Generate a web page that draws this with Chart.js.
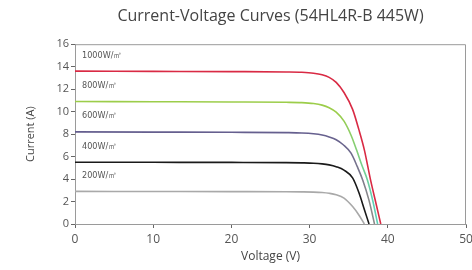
<!DOCTYPE html>
<html>
<head>
<meta charset="utf-8">
<script src="https://cdn.jsdelivr.net/npm/chart.js@4"></script>
<style>
  body { margin: 0; background: #fff; }
  #wrap { width: 472px; height: 270px; }
</style>
</head>
<body>
<div id="wrap"><canvas id="ivChart"></canvas></div>
<script>
// voltage (V) / current (A) pairs
const v1000 = [0, 10, 20, 27, 29, 30.5, 31.6, 32.5, 33.4, 34.4, 35.5, 36.3, 37, 37.8, 38.5, 39.1];
const i1000 = [13.6, 13.58, 13.56, 13.53, 13.5, 13.42, 13.28, 13.05, 12.6, 11.7, 10.2, 8.4, 6.6, 3.9, 1.8, 0];
const v800 = [0, 10, 20, 27, 29, 30.5, 31.6, 32.5, 33.4, 34.4, 35.3, 36, 36.7, 37.4, 38.1, 38.7];
const i800 = [10.9, 10.88, 10.86, 10.83, 10.8, 10.72, 10.58, 10.35, 9.95, 9.15, 7.9, 6.6, 5.2, 3.9, 2.0, 0];
const v600 = [0, 10, 20, 27, 29, 30.5, 31.6, 32.5, 33.4, 34.3, 35.3, 36.1, 36.8, 37.6, 38.3];
const i600 = [8.2, 8.18, 8.16, 8.13, 8.1, 8.03, 7.92, 7.75, 7.5, 7.05, 6.3, 5.1, 3.9, 2.1, 0];
const v400 = [0, 10, 20, 27, 29, 30.5, 31.6, 32.5, 33.4, 34.4, 35.5, 36.3, 37, 37.6];
const i400 = [5.5, 5.49, 5.48, 5.46, 5.44, 5.41, 5.35, 5.26, 5.1, 4.8, 4.1, 2.8, 1.3, 0];
const v200 = [0, 10, 20, 27, 29, 30.5, 31.6, 32.5, 33.4, 34.4, 35.5, 36.3, 37];
const i200 = [2.9, 2.89, 2.88, 2.87, 2.86, 2.84, 2.8, 2.73, 2.6, 2.3, 1.55, 0.8, 0];

const irradiance = ["1000W/㎡", "800W/㎡", "600W/㎡", "400W/㎡", "200W/㎡"];
const xTicks = [0, 10, 20, 30, 40, 50];
const yTicks = [0, 2, 4, 6, 8, 10, 12, 14, 16];

const pts = (vs, is) => vs.map((v, k) => ({ x: v, y: is[k] }));

function vGrad(top, bottom) {
  return (c) => {
    const area = c.chart.chartArea;
    if (!area) return top;
    const ys = c.chart.scales.y;
    const g = c.chart.ctx.createLinearGradient(0, ys.getPixelForValue(10), 0, ys.getPixelForValue(2));
    g.addColorStop(0, top);
    g.addColorStop(1, bottom);
    return g;
  };
}

const series = [
  { data: pts(v1000, i1000), color: "#d92a44" },
  { data: pts(v800, i800), color: vGrad("#9ccd4a", "#5fcfb6") },
  { data: pts(v600, i600), color: vGrad("#5a5290", "#8a8a8a") },
  { data: pts(v400, i400), color: "#1a1a1a" },
  { data: pts(v200, i200), color: "#a9a9a9" }
];

// frame + irradiance labels drawn against the scales
const extras = {
  id: "extras",
  afterDatasetsDraw(chart) {
    const { ctx, chartArea: a, scales } = chart;
    ctx.save();
    ctx.strokeStyle = "#9a9a9a";
    ctx.lineWidth = 1;
    ctx.beginPath();
    ctx.moveTo(a.left, a.top + 0.5);
    ctx.lineTo(a.right - 0.5, a.top + 0.5);
    ctx.lineTo(a.right - 0.5, a.bottom);
    ctx.stroke();
    ctx.fillStyle = "#555";
    ctx.font = "9px 'Liberation Sans Narrow', 'DejaVu Sans Condensed', sans-serif";
    ctx.textBaseline = "middle";
    series.forEach((s, k) => {
      const y = scales.y.getPixelForValue(s.data[0].y + 1.4);
      ctx.fillText(irradiance[k], scales.x.getPixelForValue(0.9), y);
    });
    ctx.restore();
  }
};

const font = (size) => ({ family: "'Open Sans', sans-serif", size: size });

new Chart(document.getElementById("ivChart"), {
  type: "line",
  data: {
    datasets: series.map((s, k) => ({
      label: irradiance[k],
      data: s.data,
      borderColor: s.color,
      borderWidth: 1.6,
      pointRadius: 0,
      fill: false,
      cubicInterpolationMode: "monotone"
    }))
  },
  options: {
    responsive: true,
    maintainAspectRatio: false,
    animation: false,
    layout: { padding: { left: 20, right: 0, bottom: 2 } },
    plugins: {
      legend: { display: false },
      tooltip: { enabled: false },
      title: {
        display: true,
        fullSize: false,
        text: "Current-Voltage Curves (54HL4R-B 445W)",
        color: "#444",
        font: { family: "'Open Sans', sans-serif", size: 16, weight: "normal" },
        padding: { top: 7, bottom: 18 }
      }
    },
    scales: {
      x: {
        type: "linear",
        min: 0, max: 50,
        afterBuildTicks: (s) => { s.ticks = xTicks.map(v => ({ value: v })); },
        afterFit: (s) => { s.height = 44; s.paddingRight = 6; },
        border: { color: "#9a9a9a" },
        grid: { drawOnChartArea: false, tickLength: 4, color: "#666" },
        ticks: { color: "#555", font: font(12), padding: 4 },
        title: { display: true, text: "Voltage (V)", color: "#444", font: font(12), padding: { top: 3 } }
      },
      y: {
        min: 0, max: 16,
        afterBuildTicks: (s) => { s.ticks = yTicks.map(v => ({ value: v })); },
        afterFit: (s) => { s.width = 55; },
        border: { color: "#9a9a9a" },
        grid: { drawOnChartArea: false, tickLength: 4, color: "#666" },
        ticks: { color: "#555", font: font(11), padding: 2 },
        title: { display: true, text: "Current (A)", color: "#444", font: font(11), padding: { bottom: 6 } }
      }
    }
  },
  plugins: [extras]
});
</script>
</body>
</html>
